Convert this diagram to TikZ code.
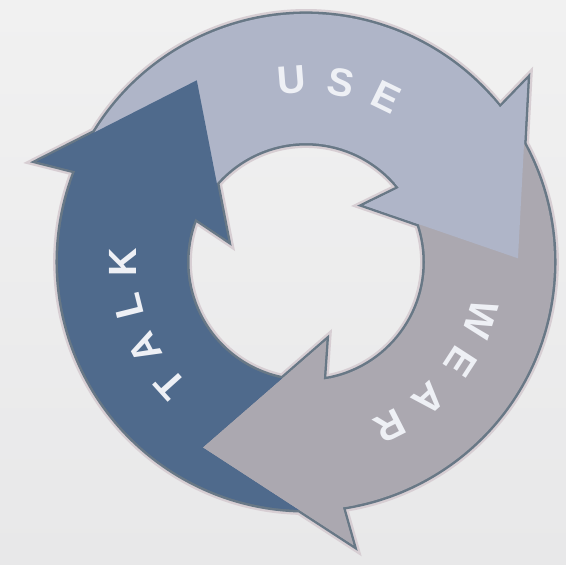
\documentclass[tikz,border=0pt]{standalone}
\usepackage{fontspec}
\setmainfont{Liberation Sans}
\usetikzlibrary{positioning}
\definecolor{paperA}{RGB}{241,241,241}
\definecolor{paperB}{RGB}{232,232,233}
\definecolor{TalkBlue}{RGB}{79,106,140}
\definecolor{UseBlue}{RGB}{175,181,200}
\definecolor{WearGray}{RGB}{171,168,176}
\definecolor{RimSlate}{RGB}{104,120,134}
\definecolor{HaloPink}{RGB}{215,206,211}
\definecolor{LetterWhite}{RGB}{238,240,245}
\tikzset{
  halo/.style={draw=HaloPink,line width=7pt,line join=miter,miter limit=3},
  rim/.style={draw=RimSlate,line width=3.6pt,line join=miter,miter limit=3},
  letter/.style={font=\fontsize{28}{28}\selectfont\bfseries,text=LetterWhite,inner sep=0pt},
}
% ring arrow with base angle #1 (body + head)
\newcommand{\ringarrow}[1]{(#1+120:248) arc[start angle=#1+120,end angle=#1,radius=248]
  -- (#1+1:287) -- (#1-37.5:212) -- (#1+6:81) -- (#1:119)
  arc[start angle=#1,end angle=#1+120,radius=119] -- cycle}
% head only, laid over the next body
\newcommand{\ringhead}[1]{(#1+3:248) arc[start angle=#1+3,end angle=#1,radius=248]
  -- (#1+1:287) -- (#1-37.5:212) -- (#1+6:81) -- (#1:119)
  arc[start angle=#1,end angle=#1+3,radius=119] -- cycle}

\begin{document}
\begin{tikzpicture}[scale=0.025]
  \shade[top color=paperA,bottom color=paperB] (-306,-302) rectangle (260,262);
  \useasboundingbox (-306,-302) rectangle (260,262);

  % outlines first
  \path[halo] \ringarrow{158.5} \ringarrow{38.5} \ringarrow{278.5};
  \path[rim] \ringarrow{158.5} \ringarrow{38.5} \ringarrow{278.5};

  % bodies, then heads on top
  \fill[TalkBlue] \ringarrow{158.5};
  \fill[UseBlue] \ringarrow{38.5};
  \fill[WearGray] \ringarrow{278.5};
  \fill[TalkBlue] \ringhead{158.5};
  \fill[UseBlue] \ringhead{38.5};
  \fill[WearGray] \ringhead{278.5};

  \node[letter, rotate=132] (talkT) at (222:183) {T};
  \node[letter, rotate=118] (talkA) at (208:183) {A};
  \node[letter, rotate=104] (talkL) at (194:183) {L};
  \node[letter, rotate=90] (talkK) at (180:183) {K};

  \node[letter, rotate=4.5] (useU) at (94.5:183) {U};
  \node[letter, rotate=-11] (useS) at (79:183) {S};
  \node[letter, rotate=-26] (useE) at (64:183) {E};

  \node[letter, rotate=-108] (wearW) at (-18:184) {W};
  \node[letter, rotate=-123] (wearE) at (-33:184) {E};
  \node[letter, rotate=-138] (wearA) at (-48:184) {A};
  \node[letter, rotate=-153] (wearR) at (-63:184) {R};
\end{tikzpicture}
\end{document}
